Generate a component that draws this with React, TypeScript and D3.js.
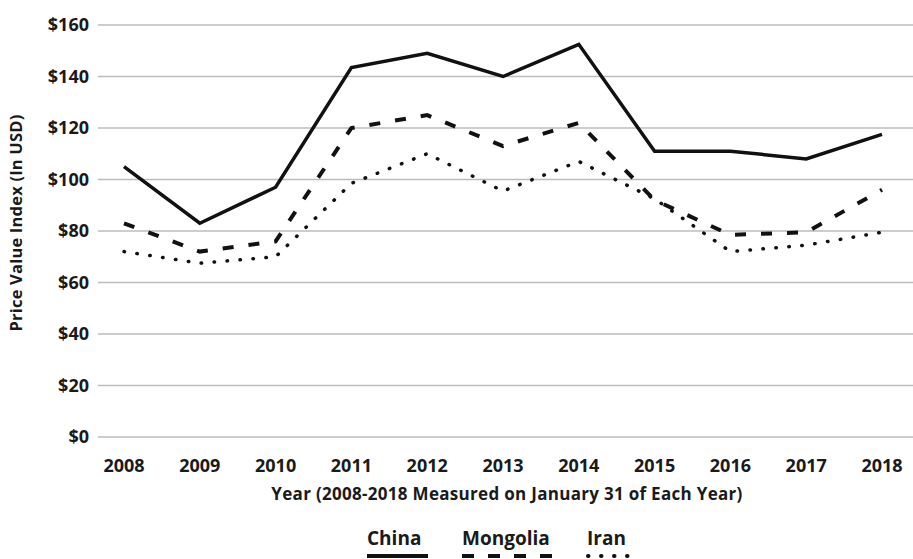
import { useEffect, useRef } from 'react';
import * as d3 from 'd3';

// Data
const years = ['2008', '2009', '2010', '2011', '2012', '2013', '2014', '2015', '2016', '2017', '2018'];
const china = [105, 83, 97, 143.5, 149, 140, 152.5, 111, 111, 108, 117.5];
const mongolia = [83, 72, 76, 120, 125, 113, 122, 92, 78.5, 79.5, 96];
const iran = [72, 67.5, 70, 98.5, 110, 95.5, 107, 92.5, 72, 74.5, 79.5];
const yTicks = [0, 20, 40, 60, 80, 100, 120, 140, 160];
const seriesNames = ['China', 'Mongolia', 'Iran'];

const FONT = '"Open Sans", Lato, sans-serif';

const App = () => {
  const svgRef = useRef<SVGSVGElement>(null);

  useEffect(() => {
    const width = 913;
    const height = 559;
    const svg = d3.select(svgRef.current);
    svg.selectAll('*').remove();
    svg.attr('width', width).attr('height', height);

    const x = d3.scalePoint<string>().domain(years).range([124, 882]);
    const y = d3.scaleLinear().domain([0, 160]).range([437, 25]);

    // grid lines
    svg.append('g')
      .selectAll('line')
      .data(yTicks)
      .enter()
      .append('line')
      .attr('x1', 98)
      .attr('x2', width)
      .attr('y1', d => y(d))
      .attr('y2', d => y(d))
      .attr('stroke', '#bcbcbc')
      .attr('stroke-width', 1.5);

    // y tick labels
    svg.append('g')
      .selectAll('text')
      .data(yTicks)
      .enter()
      .append('text')
      .attr('x', 89)
      .attr('y', d => y(d))
      .attr('dy', '0.36em')
      .attr('text-anchor', 'end')
      .attr('font-family', FONT)
      .attr('font-weight', 700)
      .attr('font-size', 18)
      .attr('fill', '#1a1a1a')
      .text(d => `$${d}`);

    // x tick labels
    svg.append('g')
      .selectAll('text')
      .data(years)
      .enter()
      .append('text')
      .attr('x', d => x(d) as number)
      .attr('y', 472)
      .attr('text-anchor', 'middle')
      .attr('font-family', FONT)
      .attr('font-weight', 700)
      .attr('font-size', 18)
      .attr('fill', '#1a1a1a')
      .text(d => d);

    // axis titles
    svg.append('text')
      .attr('transform', 'translate(22,223) rotate(-90)')
      .attr('text-anchor', 'middle')
      .attr('font-family', FONT)
      .attr('font-weight', 700)
      .attr('font-size', 16.5)
      .attr('letter-spacing', 0.2)
      .attr('fill', '#1a1a1a')
      .text('Price Value Index (In USD)');

    svg.append('text')
      .attr('x', 507)
      .attr('y', 500)
      .attr('text-anchor', 'middle')
      .attr('font-family', FONT)
      .attr('font-weight', 700)
      .attr('font-size', 17)
      .attr('letter-spacing', 0.3)
      .attr('fill', '#1a1a1a')
      .text('Year (2008-2018 Measured on January 31 of Each Year)');

    const styles = [
      { dash: null, width: 3.5, cap: 'butt' },
      { dash: '11 15', width: 4, cap: 'butt' },
      { dash: '0.5 12.5', width: 3.5, cap: 'round' },
    ];
    const allSeries = [china, mongolia, iran];

    const line = d3.line<number>()
      .x((_, i) => x(years[i]) as number)
      .y(d => y(d));

    allSeries.forEach((vals, i) => {
      const p = svg.append('path')
        .datum(vals)
        .attr('d', line)
        .attr('fill', 'none')
        .attr('stroke', '#111')
        .attr('stroke-width', styles[i].width)
        .attr('stroke-linecap', styles[i].cap)
        .attr('stroke-linejoin', 'miter');
      if (styles[i].dash) p.attr('stroke-dasharray', styles[i].dash);
    });

    // legend
    const legendX = [367, 462, 587];
    const legendW = [61, 90, 43];
    const legendDash = [null, '12 14', '0.5 12.5'];
    seriesNames.forEach((name, i) => {
      svg.append('text')
        .attr('x', legendX[i])
        .attr('y', 545)
        .attr('font-family', FONT)
        .attr('font-weight', 700)
        .attr('font-size', 19)
        .attr('fill', '#1a1a1a')
        .text(name);
      const l = svg.append('line')
        .attr('x1', legendX[i] + (i === 2 ? 1 : 0))
        .attr('x2', legendX[i] + legendW[i])
        .attr('y1', 556)
        .attr('y2', 556)
        .attr('stroke', '#111')
        .attr('stroke-width', 4)
        .attr('stroke-linecap', i === 2 ? 'round' : 'butt');
      if (legendDash[i]) l.attr('stroke-dasharray', legendDash[i] as string);
    });
  }, []);

  return (
    <div style={{ position: 'absolute', left: 0, top: 0, background: '#fff' }}>
      <svg ref={svgRef} style={{ display: 'block' }}></svg>
    </div>
  );
};

export default App;
